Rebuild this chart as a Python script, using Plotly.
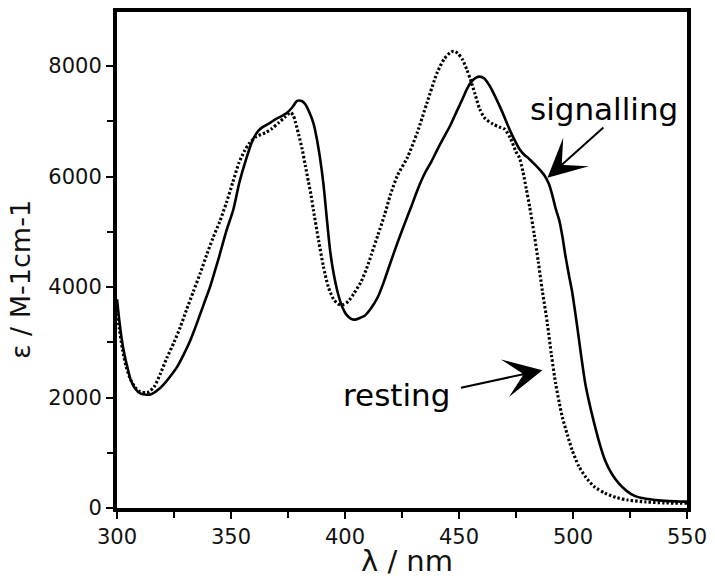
import plotly.graph_objects as go

# Absorption spectra: wavelength (nm) and molar absorptivity (M-1 cm-1)
signalling_nm = [300, 301, 302, 303.2, 304.5, 306, 308, 310.4, 313, 315, 318, 320.5, 323.5, 326.3,
                 329, 332, 334, 336.4, 338.5, 340.7, 343, 345, 348, 351, 353.7, 356.5, 359.5, 362,
                 364, 367, 369.6, 372, 374.7, 377, 379, 381, 382.6, 384.5, 386.2, 387.8, 389.1,
                 390.5, 392, 393.5, 395, 397, 399, 400.6, 402.5, 404.3, 406.5, 408.6, 411.5, 414.4,
                 417, 420, 423, 426, 429, 432, 435, 438, 441, 444, 446.1, 449, 451.5, 453.4, 455.5,
                 457.5, 459.1, 461, 463.5, 465.5, 467.8, 470, 472.1, 474.5, 476.5, 478.5, 480.8,
                 483, 485.1, 487.5, 489.5, 491, 492.4, 493.9, 495.3, 496.7, 498.2, 499.6, 501.8,
                 503.5, 505.4, 507.5, 509.7, 512, 514, 517, 520, 523.5, 527, 531, 536, 542, 550]
signalling_eps = [3780, 3400, 3080, 2790, 2560, 2320, 2160, 2070, 2050, 2060, 2140, 2240, 2390, 2550,
                  2760, 3020, 3230, 3500, 3740, 3990, 4300, 4580, 5020, 5400, 5900, 6300, 6660, 6830,
                  6900, 6970, 7040, 7090, 7160, 7260, 7370, 7370, 7310, 7150, 6960, 6650, 6320,
                  5880, 5250, 4650, 4250, 3870, 3620, 3500, 3430, 3410, 3440, 3480, 3620, 3820,
                  4090, 4450, 4800, 5130, 5450, 5780, 6060, 6280, 6530, 6760, 6920, 7180, 7400, 7580, 7720,
                  7790, 7810, 7780, 7640, 7480, 7280, 7070, 6860, 6650, 6500, 6400, 6320,
                  6230, 6140, 6020, 5860, 5650, 5420, 5220, 4930, 4560, 4220, 3920, 3300,
                  2780, 2250, 1840, 1470, 1120, 870, 620, 450, 310, 220, 175, 145, 125, 115]

resting_nm = [300, 301, 302.5, 304, 306, 308, 310, 313.3, 316.2, 319, 322, 325, 327.7, 330.5, 333.5,
              336.5, 339.3, 342, 345, 348, 350.8, 353.5, 356, 358, 361, 365.3, 368, 371, 373.5,
              376.1, 377.3, 378.3, 379.8, 381.2, 382.6, 384, 385.2, 386.2, 388.4, 390.5, 392.7,
              395, 397, 399, 401.4, 404, 407.1, 409.5, 411.5, 414.5, 417.3, 420, 423, 427.4, 431.7,
              436, 440.4, 443.5, 446, 447.6, 449.5, 451.5, 453.5, 455, 457, 459.1, 461.5, 464.9,
              467.5, 470, 472.5, 475, 476.5, 478, 479.5, 481, 483, 484.8, 486.6, 488.8, 490.5,
              492.4, 494, 495.3, 497.5, 499.6, 502.5, 505.4, 509.5, 514, 519, 524, 532, 540, 550]
resting_eps = [3600, 3250, 2850, 2560, 2320, 2180, 2110, 2090, 2190, 2430, 2730, 3000, 3270, 3590, 3920,
               4250, 4580, 4880, 5180, 5530, 5900, 6250, 6470, 6600, 6720, 6800, 6870, 6980, 7070,
               7160, 7110, 6980, 6740, 6500, 6200, 5900, 5640, 5380, 4850, 4380, 4000,
               3780, 3690, 3680, 3740, 3890, 4100, 4340, 4580, 4950, 5300, 5680, 6020, 6350, 6800,
               7340, 7880, 8130, 8240, 8270, 8230, 8120, 7930, 7760, 7500, 7220, 7050, 6950,
               6900, 6860, 6700, 6450, 6340, 6100, 5780, 5450, 4950, 4450, 3920, 3330, 2780,
               2250, 1900, 1650, 1330, 1050, 760, 570, 380, 270, 190, 145, 110, 92, 85]

x_ticks = [300, 350, 400, 450, 500, 550]
y_ticks = [0, 2000, 4000, 6000, 8000]

FONT = "DejaVu Sans"

fig = go.Figure()
fig.add_trace(go.Scatter(
    x=resting_nm, y=resting_eps, mode="lines", name="resting",
    line=dict(color="black", width=3.1, dash="2.4px,2.1px", shape="spline", smoothing=0.7),
))
fig.add_trace(go.Scatter(
    x=signalling_nm, y=signalling_eps, mode="lines", name="signalling",
    line=dict(color="black", width=2.6, shape="spline", smoothing=0.7),
))

axis_common = dict(
    showline=True, linecolor="black", mirror=True, showgrid=False, zeroline=False,
    ticks="outside", tickcolor="black", tickwidth=2, ticklen=7,
    tickfont=dict(family=FONT, size=21, color="#111"),
)
fig.update_xaxes(range=[300, 550], tickvals=x_ticks, linewidth=4,
                 minor=dict(dtick=25, tick0=300, ticks="outside", ticklen=6,
                            tickwidth=2, tickcolor="black"),
                 **axis_common)
fig.update_yaxes(range=[0, 8980], tickvals=y_ticks, linewidth=4,
                 minor=dict(dtick=1000, tick0=0, ticks="outside", ticklen=6,
                            tickwidth=2, tickcolor="black"),
                 **axis_common)

annotations = [
    # axis titles
    dict(text="λ / nm", xref="paper", yref="paper", x=0.509, y=-0.106,
         showarrow=False, font=dict(family=FONT, size=29, color="#111"),
         xanchor="center", yanchor="middle"),
    dict(text="ε / M-1cm-1", xref="paper", yref="paper", x=-0.168, y=0.46,
         showarrow=False, textangle=-90, font=dict(family=FONT, size=27, color="#111"),
         xanchor="center", yanchor="middle"),
    # curve labels
    dict(text="signalling", x=513.5, y=7220, xref="x", yref="y", showarrow=False,
         font=dict(family=FONT, size=31, color="black"), xanchor="center", yanchor="middle"),
    dict(text="resting", x=422.4, y=2047, xref="x", yref="y", showarrow=False,
         font=dict(family=FONT, size=31, color="black"), xanchor="center", yanchor="middle"),
    # arrows pointing at the curves
    dict(text="", x=488.8, y=5981, ax=514.0, ay=6915, xref="x", yref="y",
         axref="x", ayref="y", showarrow=True, arrowhead=3, arrowsize=3.2,
         arrowwidth=2, arrowcolor="black", standoff=0),
    dict(text="", x=486.6, y=2496, ax=450.2, ay=2173, xref="x", yref="y",
         axref="x", ayref="y", showarrow=True, arrowhead=3, arrowsize=3.2,
         arrowwidth=2, arrowcolor="black", standoff=0),
]

fig.update_layout(
    width=715, height=578,
    margin=dict(l=117, r=22, t=8, b=70),
    paper_bgcolor="white", plot_bgcolor="white",
    showlegend=False,
    annotations=annotations,
)

fig.write_html("out.html")
